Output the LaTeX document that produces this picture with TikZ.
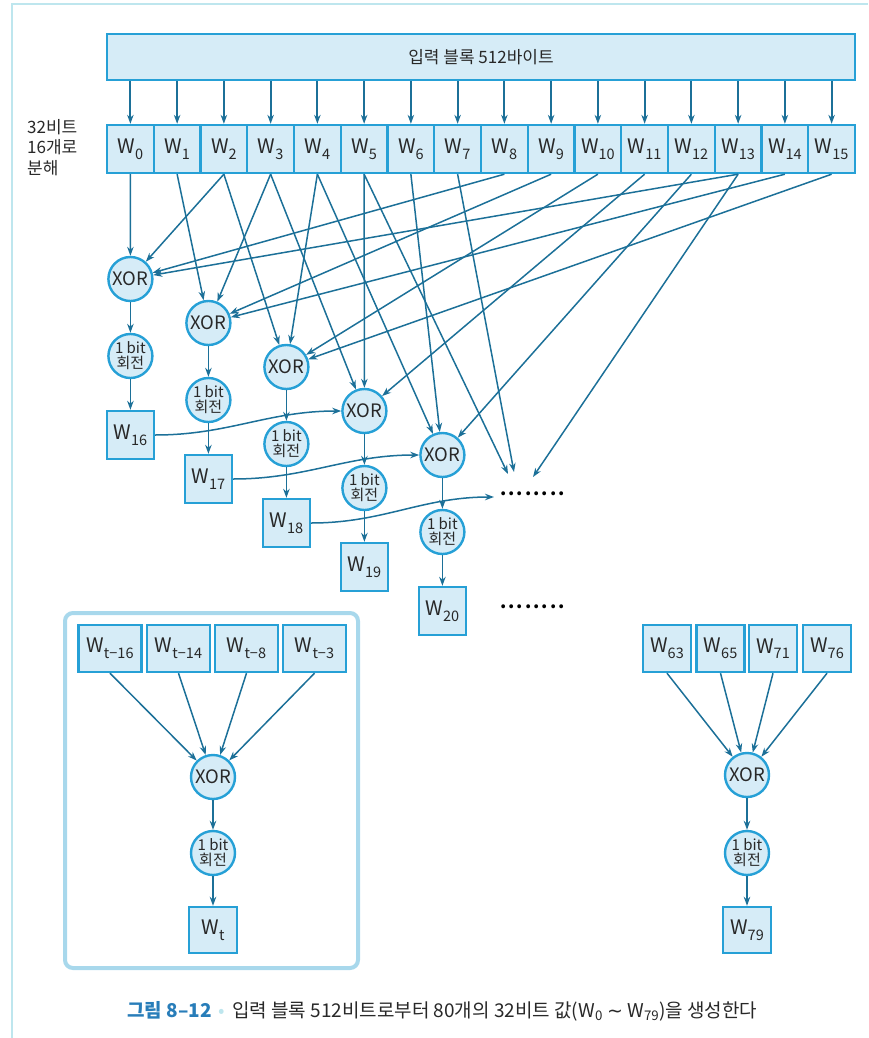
\documentclass[tikz,border=0pt]{standalone}
\usepackage{fontspec}
\setmainfont{Noto Sans CJK KR}
\newfontfamily\symfont{DejaVu Sans}
\usetikzlibrary{arrows.meta}
\definecolor{bx}{RGB}{38,160,214}
\definecolor{bfill}{RGB}{214,236,247}
\definecolor{ln}{RGB}{28,112,152}
\definecolor{frm}{RGB}{190,230,238}
\definecolor{grp}{RGB}{168,216,236}
\definecolor{capblue}{RGB}{40,125,185}
\definecolor{captext}{RGB}{40,40,40}
\newcommand{\sbs}[1]{\raisebox{-0.28em}{\fontsize{14.5}{14.5}\selectfont #1}}
\newcommand{\dotrow}{.\kern2pt.\kern2pt.\kern2pt.\kern2pt.\kern2pt.\kern2pt.\kern2pt.}
\begin{document}
\begin{tikzpicture}[x=1pt,y=-1pt,
 wbox/.style={draw=bx, fill=bfill, line width=2.4pt, rectangle, inner sep=0pt, text=captext, font=\fontsize{20}{20}\selectfont},
 xorc/.style={draw=bx, fill=bfill, line width=2.4pt, circle, minimum size=44pt, inner sep=0pt, text=captext, font=\fontsize{18.5}{18.5}\selectfont},
 rotc/.style={draw=bx, fill=bfill, line width=2.4pt, circle, minimum size=44pt, inner sep=0pt, align=center, text=captext, font=\fontsize{15}{15}\selectfont},
 arr/.style={draw=ln, line width=1.5pt, -{Stealth[length=9pt,width=6.5pt]}},
 dotsty/.style={text=black, font=\fontsize{18}{18}\selectfont\bfseries, inner sep=0pt},
 ]
\useasboundingbox (0,0) rectangle (868,1038);
\draw[frm, line width=1.5pt] (12,1038) -- (12,4) -- (868,4);

% input block
\node[wbox, minimum width=748pt, minimum height=46pt, font=\fontsize{17}{17}\selectfont] (in) at (481,57) {입력 블록 512바이트};

% left label
\node[anchor=north west, align=left, font=\fontsize{17}{20.5}\selectfont, inner sep=0pt, text=captext] (lbl) at (27,119) {32비트\\16개로\\분해};

% W row
\foreach \i in {0,...,15} {
  \node[wbox, minimum width=46.75pt, minimum height=48pt] (w\i) at ({107+46.75*(\i+0.5)},149) {W\sbs{\i}};
}
\foreach \i in {0,...,15} {
  \draw[arr, line width=2pt] (w\i.north |- in.south) -- (w\i.north);
}

% XOR chain
\foreach \k/\n in {0/16,1/17,2/18,3/19,4/20} {
  \node[xorc] (x\n) at ({130.4+78*\k},{279+44*\k}) {XOR};
  \node[rotc] (r\n) at ({130.4+78*\k},{356+44*\k}) {1 bit\\회전};
  \node[wbox, minimum width=47pt, minimum height=48pt] (w\n) at ({130.4+78*\k},{435+44*\k}) {W\sbs{\n}};
  \draw[arr] (x\n) -- (r\n);
  \draw[arr] (r\n) -- (w\n);
}

\foreach \a/\b in {0/16,2/16,8/16,13/16,1/17,3/17,9/17,14/17,2/18,4/18,10/18,15/18,3/19,5/19,11/19,4/20,6/20,12/20} {
  \draw[arr] (w\a.south) -- (x\b);
}

\coordinate (d5) at (508,474);
\coordinate (d7) at (514,472);
\coordinate (d13) at (533,477);
\coordinate (d18) at (494,497);
\draw[arr] (w5.south) -- (d5);
\draw[arr] (w7.south) -- (d7);
\draw[arr] (w13.south) -- (d13);

\draw[arr] (w16.east) to[out=0,in=180] (x19.west);
\draw[arr] (w17.east) to[out=0,in=180] (x20.west);
\draw[arr] (w18.east) to[out=0,in=180] (d18);

\node[dotsty, anchor=west] (dots1) at (500,494) {\dotrow};
\node[dotsty, anchor=west] (dots2) at (500,607) {\dotrow};

% bottom-left generic group
\draw[grp, line width=4pt, rounded corners=8pt] (65,613) rectangle (358,968);
\node[wbox, minimum width=63pt, minimum height=47pt] (t16) at (110,648.5) {W\sbs{t−16}};
\node[wbox, minimum width=63pt, minimum height=47pt] (t14) at (178.5,648.5) {W\sbs{t−14}};
\node[wbox, minimum width=63pt, minimum height=47pt] (t8) at (246.5,648.5) {W\sbs{t−8}};
\node[wbox, minimum width=63pt, minimum height=47pt] (t3) at (314.5,648.5) {W\sbs{t−3}};
\node[xorc] (xt) at (213,777) {XOR};
\node[rotc] (rt) at (213,853) {1 bit\\회전};
\node[wbox, minimum width=48pt, minimum height=46pt] (wt) at (213,930) {W\sbs{t}};
\foreach \s in {t16,t14,t8,t3} { \draw[arr] (\s.south) -- (xt); }
\draw[arr] (xt) -- (rt);
\draw[arr] (rt) -- (wt);

% bottom-right example
\node[wbox, minimum width=48pt, minimum height=47pt] (b63) at (667,648.5) {W\sbs{63}};
\node[wbox, minimum width=48pt, minimum height=47pt] (b65) at (720.5,648.5) {W\sbs{65}};
\node[wbox, minimum width=48pt, minimum height=47pt] (b71) at (773,648.5) {W\sbs{71}};
\node[wbox, minimum width=48pt, minimum height=47pt] (b76) at (827,648.5) {W\sbs{76}};
\node[xorc] (xb) at (747,775) {XOR};
\node[rotc] (rb) at (747,853) {1 bit\\회전};
\node[wbox, minimum width=48pt, minimum height=46pt] (w79) at (747,930) {W\sbs{79}};
\foreach \s in {b63,b65,b71,b76} { \draw[arr] (\s.south) -- (xb); }
\draw[arr] (xb) -- (rb);
\draw[arr] (rb) -- (w79);

% caption
\node[anchor=west, inner sep=0pt, font=\fontsize{19}{19}\selectfont] (cap) at (127,1011) {\textcolor{capblue}{\textbf{그림 8–12}}\hspace{7pt}\textcolor{frm}{•}\hspace{7pt}\textcolor{captext}{입력 블록 512비트로부터 80개의 32비트 값(W\textsubscript{0} {\symfont ∼} W\textsubscript{79})을 생성한다}};
\end{tikzpicture}
\end{document}
